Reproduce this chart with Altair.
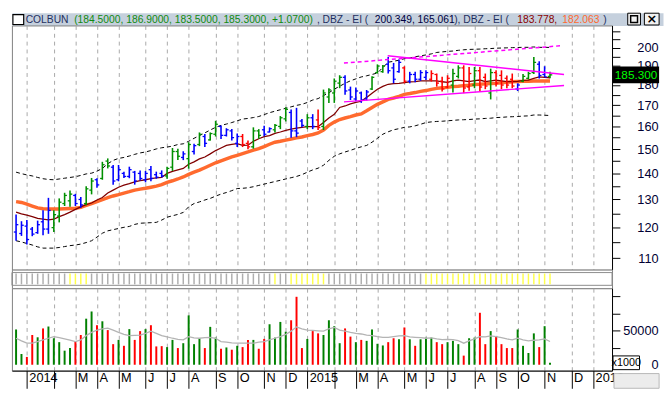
import altair as alt
import pandas as pd

# ---------------- data (weekly bars, index 0 = week ending 2013-12-20) ----------------
high = [124.6, 122.2, 122.6, 120.2, 122.4, 126.1, 130.6, 126.1, 130.4, 132.5,
        133.4, 132.1, 130.9, 135.0, 138.2, 138.1, 144.7, 146.1, 143.4, 143.4,
        140.7, 142.7, 141.0, 141.2, 141.0, 143.0, 140.7, 141.2, 142.7, 150.5,
        150.2, 149.1, 153.0, 152.3, 157.3, 156.6, 157.3, 162.6, 160.4, 159.2,
        158.9, 156.8, 156.6, 153.7, 159.6, 158.8, 160.3, 159.6, 161.1, 164.8,
        169.0, 167.9, 168.7, 163.4, 165.7, 165.7, 167.9, 177.7, 178.4, 183.4,
        185.1, 185.1, 179.2, 178.7, 176.7, 177.5, 184.6, 190.9, 190.6, 194.9,
        191.7, 193.6, 189.9, 186.9, 187.0, 187.8, 187.7, 187.7, 186.0, 184.3,
        185.1, 188.6, 190.4, 190.4, 189.5, 189.5, 189.5, 186.0, 188.6, 187.7,
        187.7, 185.0, 186.0, 180.9, 185.7, 186.9, 195.0, 192.6, 189.9, 186.9]
low = [115.6, 117.2, 114.4, 117.1, 117.9, 117.4, 117.9, 118.5, 121.8, 127.6,
       127.3, 127.6, 127.0, 127.9, 131.9, 134.4, 137.5, 142.0, 135.6, 136.9,
       138.2, 138.1, 135.6, 137.2, 136.5, 136.9, 137.9, 138.4, 137.9, 141.0,
       145.4, 145.4, 141.9, 147.7, 151.3, 150.9, 153.7, 155.5, 154.4, 155.5,
       153.7, 150.9, 150.9, 150.0, 150.2, 154.5, 155.6, 157.3, 157.3, 158.8,
       162.3, 154.9, 155.2, 159.6, 158.8, 158.8, 158.4, 158.4, 171.1, 171.1,
       178.4, 175.1, 172.5, 171.9, 171.1, 172.3, 177.5, 186.0, 186.4, 186.0,
       180.9, 186.4, 180.9, 180.9, 181.4, 182.2, 182.6, 181.8, 179.2, 176.7,
       178.4, 176.2, 183.4, 175.9, 177.1, 178.4, 176.7, 177.9, 172.8, 179.3,
       177.9, 178.4, 178.4, 177.0, 181.4, 182.9, 185.8, 183.4, 184.2, 183.5]
open_px = [118.5, 118.0, 120.5, 119.5, 118.3, 122.0, 119.5, 120.0, 124.0, 128.5,
           129.5, 131.5, 130.0, 128.5, 133.5, 137.5, 138.0, 145.0, 142.5, 137.5,
           140.0, 138.8, 140.5, 140.0, 137.5, 141.5, 139.5, 140.0, 139.0, 142.5,
           149.0, 146.5, 146.0, 149.0, 152.0, 155.5, 154.0, 156.5, 160.0, 156.0,
           158.0, 152.5, 155.5, 152.5, 151.0, 158.0, 158.5, 157.5, 158.5, 160.0,
           163.5, 166.5, 158.0, 162.5, 160.0, 164.0, 163.0, 160.0, 174.0, 176.0,
           181.0, 184.0, 177.5, 173.0, 176.0, 173.0, 178.0, 186.5, 187.0, 191.0,
           189.0, 187.0, 189.0, 182.0, 185.5, 183.0, 184.0, 183.0, 185.5, 182.0,
           179.0, 180.0, 184.5, 189.0, 179.0, 180.0, 187.5, 184.0, 176.0, 186.5,
           185.0, 183.5, 183.0, 178.0, 182.0, 183.5, 186.5, 191.0, 185.5, 184.5]
close_px = [121.0, 120.8, 116.0, 117.8, 121.0, 119.5, 126.0, 124.5, 129.0, 131.5,
            132.0, 128.5, 128.0, 134.0, 137.0, 135.5, 143.5, 143.0, 137.0, 141.5,
            138.8, 141.5, 137.0, 138.0, 140.0, 138.0, 138.5, 139.0, 142.0, 149.0,
            147.0, 148.0, 152.0, 151.5, 156.5, 152.5, 156.8, 161.0, 156.0, 158.5,
            155.0, 155.5, 152.0, 151.0, 158.0, 156.0, 156.5, 159.0, 160.5, 164.0,
            168.0, 158.0, 157.0, 160.5, 164.0, 160.0, 159.5, 176.0, 177.5, 182.0,
            184.0, 177.0, 174.0, 177.0, 172.5, 176.5, 184.0, 190.0, 190.0, 187.5,
            183.0, 192.0, 182.0, 185.5, 183.0, 186.5, 186.5, 186.0, 181.0, 178.0,
            183.5, 186.0, 189.0, 178.5, 186.0, 187.5, 179.0, 179.5, 186.5, 181.0,
            180.0, 180.0, 179.5, 180.0, 184.5, 186.0, 192.0, 185.0, 184.2, 185.3]
bar_state = list("BBBBBBBGGGGBBGGBGGBBBBBBBBBBGGGBGBGBGGBBBBRRGGBBGGGBBBGBRGGGGBBBBBGGGBBBRBBBBRRRRGGRRGRRGRRRRBGGGBBG")

ma_fast = [125.4, 124.8, 124.3, 123.8, 123.2, 122.9, 122.7, 122.9, 123.8, 124.5,
           125.4, 126.4, 127.3, 128.1, 128.7, 129.8, 130.7, 132.4, 133.5, 134.6,
           135.4, 136.0, 136.7, 137.2, 137.5, 137.9, 138.2, 138.4, 140.0, 140.8,
           141.4, 142.0, 143.7, 144.7, 145.9, 146.7, 148.0, 149.4, 150.5, 151.6,
           152.1, 152.4, 151.6, 151.7, 153.4, 154.5, 155.4, 155.9, 156.9, 157.5,
           158.2, 158.8, 159.2, 159.6, 159.9, 159.9, 159.9, 161.8, 163.9, 165.6,
           168.9, 169.6, 170.6, 171.3, 171.9, 173.8, 175.9, 177.9, 179.3, 180.4,
           180.7, 180.9, 181.3, 181.6, 181.8, 182.1, 182.1, 182.1, 182.1, 181.7,
           181.4, 182.2, 182.6, 182.2, 181.8, 182.3, 182.6, 181.8, 182.2, 182.6,
           182.2, 181.8, 181.8, 181.9, 182.4, 182.6, 183.4, 184.2, 184.0, 183.778]
ma_slow = [129.2, 128.9, 128.3, 127.6, 126.9, 126.6, 126.5, 126.5, 126.5, 126.6,
           126.7, 126.8, 127.1, 127.8, 128.5, 129.2, 129.9, 130.7, 131.3, 131.8,
           132.4, 132.9, 133.5, 133.9, 134.2, 134.6, 135.0, 135.6, 136.5, 137.1,
           137.8, 138.6, 139.6, 140.5, 141.3, 142.3, 143.3, 144.3, 145.1, 145.9,
           146.7, 147.4, 148.1, 148.8, 149.6, 150.2, 151.1, 152.1, 153.0, 153.4,
           153.9, 154.4, 154.9, 155.3, 155.9, 156.4, 157.1, 158.4, 160.5, 162.0,
           163.2, 163.9, 164.5, 165.3, 165.8, 167.3, 168.9, 170.4, 171.6, 172.8,
           173.5, 174.3, 175.3, 175.7, 176.2, 176.8, 177.2, 177.8, 178.3, 178.6,
           178.8, 179.2, 179.4, 179.7, 179.9, 180.3, 180.4, 180.6, 180.8, 180.9,
           181.2, 181.4, 181.7, 181.8, 181.9, 182.0, 182.06, 182.06, 182.06, 182.063]
env_upper = [140.5, 139.9, 139.4, 139.0, 138.4, 137.9, 137.6, 137.5, 137.8, 138.1,
             138.4, 138.7, 139.2, 139.8, 140.1, 140.9, 142.0, 143.9, 145.3, 146.1,
             146.5, 147.1, 147.8, 148.4, 148.8, 149.4, 150.1, 150.6, 150.9, 151.3,
             152.0, 152.3, 153.4, 154.7, 155.9, 157.1, 158.4, 159.6, 160.5, 161.1,
             161.8, 162.6, 163.4, 163.7, 164.1, 164.6, 165.5, 166.4, 167.1, 167.8,
             168.5, 169.2, 169.9, 170.4, 171.3, 172.5, 173.2, 174.7, 176.1, 177.9,
             179.4, 180.9, 182.2, 183.2, 184.2, 184.8, 185.5, 186.3, 189.2, 192.1,
             192.6, 193.2, 194.0, 194.4, 195.1, 195.6, 196.1, 196.7, 197.5, 197.8,
             198.1, 198.3, 198.7, 199.0, 199.2, 199.3, 199.4, 199.6, 199.7, 199.9,
             200.0, 200.1, 200.2, 200.3, 200.4, 200.4, 200.6, 200.4, 200.35, 200.349]
env_lower = [115.6, 115.2, 114.7, 114.2, 113.6, 113.2, 113.2, 113.2, 113.4, 113.7,
             114.0, 114.2, 114.5, 115.0, 115.6, 116.8, 118.1, 118.9, 119.3, 119.7,
             120.1, 120.4, 121.1, 121.5, 121.6, 121.7, 121.8, 122.6, 123.6, 124.1,
             124.6, 125.3, 127.3, 128.5, 129.1, 129.8, 130.4, 131.25, 132.0, 132.6,
             133.3, 134.1, 134.2, 134.4, 134.8, 135.3, 135.8, 136.3, 136.8, 137.3,
             137.8, 138.3, 138.8, 139.5, 140.5, 141.4, 142.1, 143.3, 145.3, 147.0,
             148.0, 148.8, 149.5, 150.3, 151.0, 151.6, 153.0, 154.7, 156.5, 157.6,
             158.5, 159.0, 159.6, 159.8, 160.3, 161.0, 161.8, 162.1, 162.3, 162.4,
             162.6, 162.8, 163.0, 163.1, 163.2, 163.4, 163.5, 163.7, 163.8, 164.1,
             164.2, 164.4, 164.5, 164.6, 164.8, 164.9, 165.3, 165.3, 165.2, 165.061]

volume = [51400, 15700, 11400, 43300, 40000, 52900, 55700, 38600, 32900, 20500,
          24300, 33800, 43300, 67100, 77600, 57600, 63300, 50500, 30000, 36200,
          27600, 51900, 36200, 49000, 51900, 57600, 26700, 27100, 25700, 36200,
          24300, 31400, 71900, 30000, 38600, 24300, 55200, 39500, 23300, 25200,
          21900, 27600, 25700, 36200, 36200, 23300, 37600, 59000, 39500, 62400,
          48100, 64800, 99000, 24300, 37600, 49000, 45700, 43300, 64800, 56200,
          31400, 52900, 41000, 32900, 36200, 34800, 51400, 30500, 28100, 32900,
          38600, 37100, 54300, 37100, 27600, 37100, 39500, 39500, 32900, 30000,
          32900, 34800, 30000, 13300, 38600, 39500, 75700, 30000, 49000, 41900,
          30000, 24300, 24300, 51400, 27600, 17100, 45700, 25700, 56200, 2900]
vol_state = list("GGRRGRGGGG" "GRRGGRGRRG" "RGRRGRRRGG" "RGGGGRGGRG" "RGRRGRRGGG"
                 "GRRRGRRGGG" "GRRGRGGGGR" "RGRGRGGGRR" "GGGRGGRRGR" "RRRGGGGRGG")
vol_ma = [38600, 34800, 31400, 31400, 33800, 36200, 38600, 41000, 39500, 37600,
          35700, 33800, 36200, 42400, 47100, 50500, 52400, 53300, 50500, 47100,
          44300, 42400, 42900, 43300, 45700, 49000, 45700, 42400, 40500, 38600,
          37100, 36200, 41000, 39000, 38600, 39500, 40000, 38600, 33800, 32800,
          31900, 31400, 31400, 31400, 31400, 32800, 33800, 36200, 38600, 41000,
          44300, 49000, 55200, 52400, 50500, 50000, 49500, 49000, 52400, 54300,
          50500, 49000, 47100, 45700, 44800, 43300, 42400, 41000, 40000, 40000,
          41000, 41900, 42400, 40500, 40000, 39500, 38600, 39000, 37600, 36700,
          37100, 36700, 35200, 31400, 34800, 37600, 41000, 40500, 41900, 41000,
          39500, 37600, 36200, 38600, 36200, 34800, 35700, 36200, 37600, 33800]
signal_on = [0] * 10 + [1] * 4 + [0] * 34 + [1] + [0] * 2 + [1] * 7 + [0] * 18 + [1] * 24

trend_upper_idx = [68.9, 101.6]
trend_upper_px = [195.6, 185.5]
trend_lower_idx = [60.8, 101.6]
trend_lower_px = [171.6, 179.8]
channel_idx = [60.8, 101.0]
channel_px = [191.6, 201.3]

month_ticks = [2, 7, 11, 15, 19, 24, 28, 32, 37, 41, 46, 50, 54, 59, 63, 67, 72, 76,
               80, 85, 89, 93, 98, 103, 107]
month_labels = ["2014", "", "M", "A", "M", "J", "J", "A", "S", "O", "N", "D", "2015", "",
                "M", "A", "M", "J", "J", "A", "S", "O", "N", "D", "2016"]
price_ticks = list(range(110, 215, 5))
vol_ticks = [0, 25000, 50000, 75000, 100000]

# ---------------- frames ----------------
n = len(high)
df = pd.DataFrame({
    "idx": list(range(n)), "open": open_px, "high": high, "low": low, "close": close_px,
    "state": bar_state, "fast": ma_fast, "slow": ma_slow, "up": env_upper, "lo": env_lower,
    "vol": volume, "vstate": vol_state, "vma": vol_ma, "sig": signal_on,
})
trend_df = pd.DataFrame({
    "line": ["u", "u", "l", "l"],
    "idx": trend_upper_idx + trend_lower_idx,
    "px": trend_upper_px + trend_lower_px,
})
chan_df = pd.DataFrame({"idx": channel_idx, "px": channel_px})
last_df = pd.DataFrame({"last": [close_px[-1]]})
dummy = pd.DataFrame({"k": [0]})

FONT = "Liberation Sans"
W = 612
xs = alt.Scale(domain=[-0.77, 110.5], nice=False, zero=False)
grid_axis = alt.Axis(values=month_ticks, grid=True, gridDash=[4, 4], gridColor="#a8a8a8",
                     labels=False, ticks=False, domain=False, title=None)

def X(f):
    return alt.X(f, type="quantitative", scale=xs, axis=grid_axis)

py_scale = alt.Scale(type="log", domain=[106.48, 213.25], nice=False)
price_axis = alt.Axis(orient="right", values=price_ticks,
                      labelExpr="datum.value % 10 == 0 && datum.value <= 200 ? datum.value : ''",
                      tickSize=8, tickColor="black", domainColor="black", grid=False, title=None,
                      labelAlign="right", labelPadding=39, labelFont=FONT, labelFontSize=13,
                      labelColor="#000033", labelOverlap=False)

def PY(f):
    return alt.Y(f, type="quantitative", scale=py_scale, axis=price_axis)

bar_color = "datum.state == 'G' ? '#009000' : datum.state == 'R' ? '#ff0000' : '#0000ff'"
base = alt.Chart(df).transform_calculate(pc=bar_color, xl="datum.idx - 0.42", xr="datum.idx + 0.42")

env_u = alt.Chart(df).mark_line(color="black", strokeWidth=1, strokeDash=[4, 3]).encode(x=X("idx"), y=PY("up"))
env_l = alt.Chart(df).mark_line(color="black", strokeWidth=1, strokeDash=[4, 3]).encode(x=X("idx"), y=PY("lo"))
slow = alt.Chart(df).mark_line(color="#ff6a2e", strokeWidth=3.5).encode(x=X("idx"), y=PY("slow"))
fast = alt.Chart(df).mark_line(color="#800000", strokeWidth=1.3).encode(x=X("idx"), y=PY("fast"))
hl = base.mark_rule(strokeWidth=1.6).encode(x=X("idx"), y=PY("low"), y2="high",
                                            color=alt.Color("pc:N", scale=None))
op = base.mark_rule(strokeWidth=1.3).encode(x=X("xl"), x2="idx", y=PY("open"),
                                            color=alt.Color("pc:N", scale=None))
cl = base.mark_rule(strokeWidth=1.3).encode(x=X("idx"), x2="xr", y=PY("close"),
                                            color=alt.Color("pc:N", scale=None))
trend = alt.Chart(trend_df).mark_line(color="#ff00ff", strokeWidth=1.5).encode(
    x=X("idx"), y=PY("px"), detail="line:N")
chan = alt.Chart(chan_df).mark_line(color="#ff00ff", strokeWidth=1.5, strokeDash=[4, 3]).encode(
    x=X("idx"), y=PY("px"))
box = alt.Chart(last_df).mark_point(shape="M-1,-0.362L1,-0.362L1,0.362L-1,0.362Z", filled=True,
                                    color="black", opacity=1, size=2209).encode(
    x=alt.value(636.5), y=PY("last"))
box_txt = alt.Chart(last_df).mark_text(color="#00ff00", font=FONT, fontSize=12, align="center",
                                       baseline="middle").encode(
    x=alt.value(636.5), y=PY("last"), text=alt.Text("last:Q", format=".3f"))

price = alt.layer(env_u, env_l, slow, fast, hl, op, cl, trend, chan, box, box_txt).properties(
    width=W, height=249, view=alt.ViewBackground(stroke="#808080", fill="white"))

# signal strip
strip_ticks = alt.Chart(df).transform_calculate(
    sc="datum.sig == 1 ? '#ffff00' : '#8c8c8c'").mark_tick(size=11, thickness=1.5).encode(
    x=alt.X("idx:Q", scale=xs, axis=None), color=alt.Color("sc:N", scale=None))
strip_box = alt.Chart(dummy).mark_rect(fill="transparent", stroke="#8c8c8c", strokeWidth=1).encode(
    x=alt.value(0), x2=alt.value(W), y=alt.value(3), y2=alt.value(16))
strip = alt.layer(strip_box, strip_ticks).properties(
    width=W, height=19, view=alt.ViewBackground(stroke="#808080", fill="white"))

# volume panel
lab_expr = "".join("datum.value == %d ? '%s' : " % (v, l) for v, l in zip(month_ticks, month_labels)) + "''"
vol_x_axis = alt.Axis(values=month_ticks, grid=True, gridDash=[4, 4], gridColor="#a8a8a8",
                      ticks=True, tickSize=18, tickColor="black", domain=True, domainColor="black",
                      labelExpr=lab_expr, labelAlign="left", labelBaseline="top", labelPadding=-17,
                      labelOffset=2, labelFont=FONT, labelFontSize=13, labelColor="black",
                      labelFlush=False, labelOverlap=False, title=None)
vy_scale = alt.Scale(domain=[-8571, 111429], nice=False, zero=False)
vol_axis = alt.Axis(orient="right", values=vol_ticks,
                    labelExpr="datum.value == 0 || datum.value == 50000 ? datum.value : ''",
                    tickSize=8, tickColor="black", domainColor="black", grid=False, title=None,
                    labelAlign="right", labelPadding=39, labelFont=FONT, labelFontSize=13,
                    labelColor="#000033", labelOverlap=False)

vbase = alt.Chart(df).transform_calculate(
    vc="datum.vstate == 'G' ? '#008000' : '#ff0000'", zero="0")
vbars = vbase.mark_rule(strokeWidth=2).encode(
    x=alt.X("idx:Q", scale=xs, axis=vol_x_axis),
    y=alt.Y("vol:Q", scale=vy_scale, axis=vol_axis), y2="zero",
    color=alt.Color("vc:N", scale=None))
vline = alt.Chart(df).mark_line(color="#b4b4b4", strokeWidth=1.3).encode(
    x=alt.X("idx:Q", scale=xs, axis=vol_x_axis),
    y=alt.Y("vma:Q", scale=vy_scale, axis=vol_axis))
x1000_box = alt.Chart(dummy).mark_rect(fill="white", stroke="black", strokeWidth=1).encode(
    x=alt.value(613), x2=alt.value(640), y=alt.value(69), y2=alt.value(83))
x1000_txt = alt.Chart(dummy).mark_text(text="x1000", font=FONT, fontSize=11, color="black",
                                       align="center", baseline="middle").encode(
    x=alt.value(626.5), y=alt.value(76))
corner = alt.Chart(dummy).mark_rect(fill="#ececec", stroke="#b8b8b8", strokeWidth=1).encode(
    x=alt.value(614), x2=alt.value(660), y=alt.value(87), y2=alt.value(102))
volp = alt.layer(vbars, vline, x1000_box, x1000_txt, corner).properties(
    width=W, height=84, view=alt.ViewBackground(stroke="#808080", fill="white"))

# title bar
def ttext(txt, x, color):
    return alt.Chart(dummy).mark_text(text=txt, align="left", baseline="middle", font=FONT,
                                      fontSize=10.5, color=color).encode(x=alt.value(x), y=alt.value(7))

navy = "#1f2f5f"
icon = alt.Chart(dummy).mark_rect(fill="white", stroke="black", strokeWidth=1.2).encode(
    x=alt.value(1), x2=alt.value(12), y=alt.value(2), y2=alt.value(12))
btn1 = alt.Chart(dummy).mark_rect(fill="#f2f2f2", stroke="black", strokeWidth=1).encode(
    x=alt.value(628), x2=alt.value(641), y=alt.value(0.5), y2=alt.value(12.5))
btn1_in = alt.Chart(dummy).mark_rect(fill="transparent", stroke="black", strokeWidth=1.5).encode(
    x=alt.value(631), x2=alt.value(638), y=alt.value(3), y2=alt.value(10))
btn2 = alt.Chart(dummy).mark_rect(fill="#f2f2f2", stroke="black", strokeWidth=1).encode(
    x=alt.value(645), x2=alt.value(660), y=alt.value(0.5), y2=alt.value(12.5))
btn2_x = alt.Chart(dummy).mark_text(text="\u00d7", font="DejaVu Sans", fontSize=13, fontWeight="bold",
                                    color="black", align="center", baseline="middle").encode(
    x=alt.value(652.5), y=alt.value(6.5))
title = alt.layer(
    icon,
    ttext("COLBUN", 14, navy),
    ttext("(184.5000, 186.9000, 183.5000, 185.3000, +1.0700)", 63.5, "#108a10"),
    ttext(", DBZ - EI (", 311, navy),
    ttext("200.349, 165.061", 370, "#000040"),
    ttext("), DBZ - EI (", 451, navy),
    ttext("183.778,", 515.3, "#8b0000"),
    ttext("182.063", 561.3, "#ff6a2e"),
    ttext(")", 603, navy),
    btn1, btn1_in, btn2, btn2_x,
).properties(width=664, height=13, view=alt.ViewBackground(fill="#c5d0dd", stroke="transparent"))

chart = alt.vconcat(title, price, strip, volp, spacing=0, bounds="flush").properties(
    padding=0).configure(background="white")

chart.save("out.html", embed_options={"renderer": "svg", "actions": False})
